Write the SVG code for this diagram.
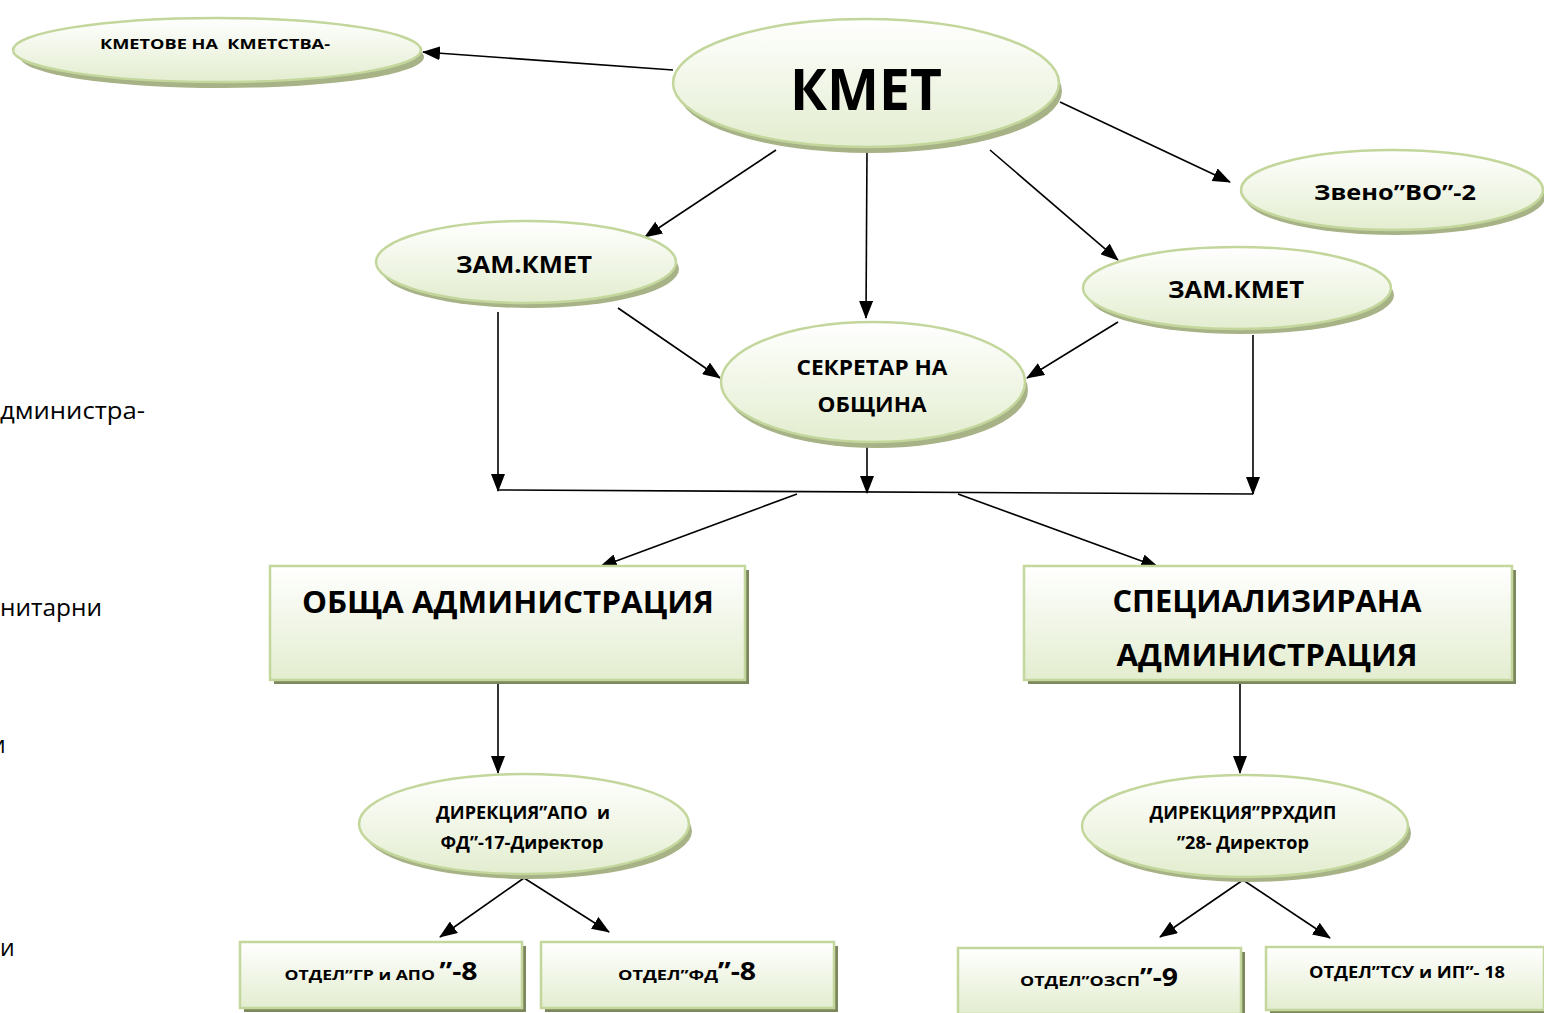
<svg xmlns="http://www.w3.org/2000/svg" width="1544" height="1013" viewBox="0 0 1544 1013">
<defs>
<linearGradient id="g" x1="0" y1="0" x2="0" y2="1">
<stop offset="0" stop-color="#ffffff"/>
<stop offset="1" stop-color="#e3edcf"/>
</linearGradient>
<marker id="ah" markerWidth="18" markerHeight="14" refX="17" refY="7" orient="auto" markerUnits="userSpaceOnUse">
<path d="M0,0 L18,7 L0,14 Z" fill="#000"/>
</marker>
</defs>
<style>
.e{fill:url(#g);stroke:#c3d69b;stroke-width:2.5}
.es{fill:#a7b287}
.r{fill:url(#g);stroke:#c3d69b;stroke-width:2.5}
.rs{fill:#7d875e}
.t{font-family:"Open Sans","Noto Sans","DejaVu Sans",sans-serif;font-weight:bold;fill:#000;text-anchor:middle;white-space:pre}
.f{font-family:"Open Sans","Noto Sans","DejaVu Sans",sans-serif;fill:#000;font-size:23px}
.c{stroke:#000;stroke-width:1.6;fill:none}
.ca{stroke:#000;stroke-width:1.6;fill:none;marker-end:url(#ah)}
</style>
<rect width="1544" height="1013" fill="#fff"/>

<g id="fragments">
<text class="f" x="0" y="419" textLength="145" lengthAdjust="spacingAndGlyphs">дминистра-</text>
<text class="f" x="0" y="616" textLength="102" lengthAdjust="spacingAndGlyphs">нитарни</text>
<text class="f" x="-9" y="753">и</text>
<text class="f" x="0" y="956">и</text>
</g>

<g id="connectors">
<path class="ca" d="M673,70 L423,52"/>
<path class="ca" d="M1060,102 L1230,182"/>
<path class="ca" d="M776,150 L645,237"/>
<path class="ca" d="M867,150 L866,318"/>
<path class="ca" d="M990,150 L1118,260"/>
<path class="ca" d="M618,308 L720,378"/>
<path class="ca" d="M1118,322 L1027,378"/>
<path class="ca" d="M498,312 L498,491"/>
<path class="ca" d="M867,445 L867,493"/>
<path class="ca" d="M1253,335 L1253,494"/>
<path class="c" d="M498,490 L1253,494"/>
<path class="ca" d="M797,494 L600,567"/>
<path class="ca" d="M958,494 L1158,567"/>
<path class="ca" d="M498,680 L498,773"/>
<path class="ca" d="M1240,680 L1240,773"/>
<path class="ca" d="M524,878 L440,937"/>
<path class="ca" d="M524,878 L609,932"/>
<path class="ca" d="M1243,880 L1160,937"/>
<path class="ca" d="M1243,880 L1330,938"/>
</g>

<g id="kmetove">
<ellipse class="es" cx="222" cy="57" rx="202" ry="31"/>
<ellipse class="e" cx="217" cy="50" rx="204" ry="32"/>
<text class="t" x="215" y="49" font-size="15" textLength="230" lengthAdjust="spacingAndGlyphs">КМЕТОВЕ НА  КМЕТСТВА-</text>
</g>

<g id="kmet">
<ellipse class="es" cx="870" cy="91" rx="192" ry="62"/>
<ellipse class="e" cx="866" cy="83" rx="193" ry="64"/>
<text class="t" x="866" y="110" font-size="58" textLength="152" lengthAdjust="spacingAndGlyphs">КМЕТ</text>
</g>

<g id="zveno">
<ellipse class="es" cx="1395" cy="197" rx="150" ry="38"/>
<ellipse class="e" cx="1392" cy="190" rx="151" ry="40"/>
<text class="t" x="1395" y="200" font-size="22" textLength="162" lengthAdjust="spacingAndGlyphs">Звено”ВО”-2</text>
</g>

<g id="zam1">
<ellipse class="es" cx="530" cy="269" rx="149" ry="39"/>
<ellipse class="e" cx="526" cy="262" rx="150" ry="41"/>
<text class="t" x="524" y="273" font-size="23" textLength="136" lengthAdjust="spacingAndGlyphs">ЗАМ.КМЕТ</text>
</g>

<g id="zam2">
<ellipse class="es" cx="1241" cy="295" rx="153" ry="39"/>
<ellipse class="e" cx="1237" cy="288" rx="154" ry="41"/>
<text class="t" x="1236" y="298" font-size="23" textLength="136" lengthAdjust="spacingAndGlyphs">ЗАМ.КМЕТ</text>
</g>

<g id="sekretar">
<ellipse class="es" cx="877" cy="390" rx="151" ry="58"/>
<ellipse class="e" cx="873" cy="382" rx="152" ry="60"/>
<text class="t" x="872" y="375" font-size="21" textLength="151" lengthAdjust="spacingAndGlyphs">СЕКРЕТАР НА</text>
<text class="t" x="872" y="412" font-size="21" textLength="109" lengthAdjust="spacingAndGlyphs">ОБЩИНА</text>
</g>

<g id="obshta">
<rect class="rs" x="274" y="570" width="475" height="114"/>
<rect class="r" x="270" y="566" width="475" height="114"/>
<text class="t" x="508" y="613" font-size="31" textLength="412" lengthAdjust="spacingAndGlyphs">ОБЩА АДМИНИСТРАЦИЯ</text>
</g>

<g id="spec">
<rect class="rs" x="1028" y="570" width="488" height="114"/>
<rect class="r" x="1024" y="566" width="488" height="114"/>
<text class="t" x="1267" y="612" font-size="31" textLength="309" lengthAdjust="spacingAndGlyphs">СПЕЦИАЛИЗИРАНА</text>
<text class="t" x="1267" y="666" font-size="31" textLength="301" lengthAdjust="spacingAndGlyphs">АДМИНИСТРАЦИЯ</text>
</g>

<g id="dir1">
<ellipse class="es" cx="528" cy="831" rx="164" ry="48"/>
<ellipse class="e" cx="524" cy="824" rx="165" ry="50"/>
<text class="t" x="523" y="819" font-size="17" textLength="174" lengthAdjust="spacingAndGlyphs">ДИРЕКЦИЯ”АПО  и</text>
<text class="t" x="522" y="849" font-size="17" textLength="163" lengthAdjust="spacingAndGlyphs">ФД”-17-Директор</text>
</g>

<g id="dir2">
<ellipse class="es" cx="1249" cy="833" rx="162" ry="49"/>
<ellipse class="e" cx="1245" cy="826" rx="163" ry="51"/>
<text class="t" x="1243" y="819" font-size="17" textLength="187" lengthAdjust="spacingAndGlyphs">ДИРЕКЦИЯ”РРХДИП</text>
<text class="t" x="1243" y="849" font-size="17" textLength="132" lengthAdjust="spacingAndGlyphs">”28- Директор</text>
</g>

<g id="otdel-gr">
<rect class="rs" x="244" y="946" width="282" height="66"/>
<rect class="r" x="240" y="942" width="282" height="66"/>
<text class="t" x="381" y="980" font-size="15"><tspan textLength="155" lengthAdjust="spacingAndGlyphs">ОТДЕЛ”ГР и АПО </tspan><tspan font-size="25" textLength="38" lengthAdjust="spacingAndGlyphs">”-8</tspan></text>
</g>

<g id="otdel-fd">
<rect class="rs" x="545" y="946" width="293" height="66"/>
<rect class="r" x="541" y="942" width="293" height="66"/>
<text class="t" x="687" y="980" font-size="15"><tspan textLength="100" lengthAdjust="spacingAndGlyphs">ОТДЕЛ”ФД</tspan><tspan font-size="25" textLength="38" lengthAdjust="spacingAndGlyphs">”-8</tspan></text>
</g>

<g id="otdel-ozsp">
<rect class="rs" x="962" y="952" width="283" height="66"/>
<rect class="r" x="958" y="948" width="283" height="66"/>
<text class="t" x="1099" y="986" font-size="15"><tspan textLength="120" lengthAdjust="spacingAndGlyphs">ОТДЕЛ”ОЗСП</tspan><tspan font-size="25" textLength="38" lengthAdjust="spacingAndGlyphs">”-9</tspan></text>
</g>

<g id="otdel-tsu">
<rect class="rs" x="1270" y="951" width="278" height="63"/>
<rect class="r" x="1266" y="947" width="278" height="63"/>
<text class="t" x="1407" y="978" font-size="16" textLength="196" lengthAdjust="spacingAndGlyphs">ОТДЕЛ”ТСУ и ИП”- 18</text>
</g>
</svg>
